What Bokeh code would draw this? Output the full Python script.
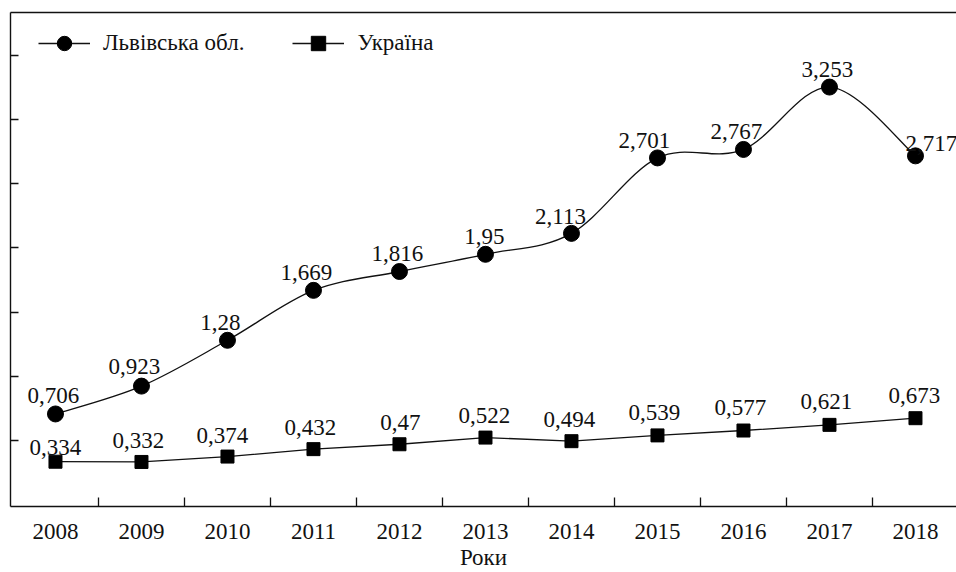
from bokeh.plotting import figure
from bokeh.models import (ColumnDataSource, FixedTicker, LinearAxis, Legend,
                          LegendItem, Range1d)
from bokeh.core.properties import value
from bokeh.embed import file_html
from bokeh.resources import INLINE

# ---- data ----
years = [2008, 2009, 2010, 2011, 2012, 2013, 2014, 2015, 2016, 2017, 2018]
lviv = [0.706, 0.923, 1.28, 1.669, 1.816, 1.95, 2.113, 2.701, 2.767, 3.253, 2.717]
ukraine = [0.334, 0.332, 0.374, 0.432, 0.47, 0.522, 0.494, 0.539, 0.577, 0.621, 0.673]
series_names = ["Львівська обл.", "Україна"]
x_title = "Роки"
y_ticks = [0.5, 1.0, 1.5, 2.0, 2.5, 3.0, 3.5]

# label placement (style only, screen px)
lviv_dx = [-2, -7, -7, -7, -2, -1, -11, -13, -7, -2, 16]
lviv_dy = [-18, -20, -18, -18, -18, -18, -17, -17, -18, -18, -12]
ukr_dx = [0, -3, -5, -3, 1, -1, -2, -3, -3, -3, -1]
ukr_dy = [-14, -21, -21, -22, -22, -22, -22, -23, -23, -23, -23]

FONT = "Liberation Serif"
FS = "23px"
INK = "#111111"


def fmt(v):
    return str(v).replace(".", ",")


p = figure(width=956, height=572,
           x_range=Range1d(2007.477, 2018.477),
           y_range=Range1d(-0.015, 3.834),
           output_backend="svg", toolbar_location=None,
           x_axis_type=None, y_axis_type=None,
           min_border_left=10, min_border_right=0,
           min_border_top=12, min_border_bottom=66)
p.outline_line_color = None
p.background_fill_color = "white"
p.border_fill_color = "white"

# x axis: labels at the years, tick marks between them
xaxis = LinearAxis(ticker=FixedTicker(ticks=years,
                                      minor_ticks=[y + 0.5 for y in years[:-1]]))
xaxis.axis_label = x_title
xaxis.axis_label_text_font = FONT
xaxis.axis_label_text_font_size = FS
xaxis.axis_label_text_font_style = "normal"
xaxis.axis_label_text_color = INK
xaxis.axis_label_standoff = 3
xaxis.major_label_text_font = FONT
xaxis.major_label_text_font_size = FS
xaxis.major_label_text_color = INK
xaxis.major_label_standoff = 17
xaxis.major_tick_in = 0
xaxis.major_tick_out = 0
xaxis.minor_tick_in = 9
xaxis.minor_tick_out = 0
xaxis.minor_tick_line_color = INK
xaxis.minor_tick_line_width = 1.3
xaxis.axis_line_color = INK
xaxis.axis_line_width = 1.4
p.add_layout(xaxis, "below")

# y axis: tick marks only (no labels)
yaxis = LinearAxis(ticker=FixedTicker(ticks=[], minor_ticks=y_ticks))
yaxis.major_label_standoff = 0
yaxis.major_tick_in = 0
yaxis.major_tick_out = 0
yaxis.minor_tick_in = 8
yaxis.minor_tick_out = 0
yaxis.minor_tick_line_color = INK
yaxis.minor_tick_line_width = 1.3
yaxis.axis_line_color = INK
yaxis.axis_line_width = 1.4
p.add_layout(yaxis, "left")

# top border line
top = LinearAxis(ticker=FixedTicker(ticks=[]))
top.major_label_standoff = 0
top.major_tick_in = 0
top.major_tick_out = 0
top.minor_tick_line_color = None
top.axis_line_color = INK
top.axis_line_width = 1.4
p.add_layout(top, "above")

p.xgrid.visible = False
p.ygrid.visible = False

# smooth (Catmull-Rom) curve for Lviv region via Bezier glyphs
n = len(years)
x0, y0, x1, y1, cx0, cy0, cx1, cy1 = [], [], [], [], [], [], [], []
for i in range(n - 1):
    im1 = max(i - 1, 0)
    ip2 = min(i + 2, n - 1)
    x0.append(years[i]); y0.append(lviv[i])
    x1.append(years[i + 1]); y1.append(lviv[i + 1])
    cx0.append(years[i] + (years[i + 1] - years[im1]) / 6.0)
    cy0.append(lviv[i] + (lviv[i + 1] - lviv[im1]) / 6.0)
    cx1.append(years[i + 1] - (years[ip2] - years[i]) / 6.0)
    cy1.append(lviv[i + 1] - (lviv[ip2] - lviv[i]) / 6.0)
bez_src = ColumnDataSource(dict(x0=x0, y0=y0, x1=x1, y1=y1,
                                cx0=cx0, cy0=cy0, cx1=cx1, cy1=cy1))
r_lviv_line = p.bezier(x0="x0", y0="y0", x1="x1", y1="y1", cx0="cx0", cy0="cy0",
                       cx1="cx1", cy1="cy1", source=bez_src,
                       line_color=INK, line_width=1.3)

src_l = ColumnDataSource(dict(x=years, y=lviv, t=[fmt(v) for v in lviv],
                              dx=lviv_dx, dy=lviv_dy))
src_u = ColumnDataSource(dict(x=years, y=ukraine, t=[fmt(v) for v in ukraine],
                              dx=ukr_dx, dy=ukr_dy))

r_lviv_pts = p.scatter("x", "y", source=src_l, marker="circle", size=16,
                       fill_color="black", line_color="black")
r_ukr_line = p.line("x", "y", source=src_u, line_color=INK, line_width=1.3)
r_ukr_pts = p.scatter("x", "y", source=src_u, marker="square", size=13,
                      fill_color="black", line_color="black")

for s in (src_l, src_u):
    p.text(x="x", y="y", text="t", x_offset="dx", y_offset="dy", source=s,
           text_align="center", text_baseline="alphabetic",
           text_font=value(FONT), text_font_size=FS, text_color=INK)

legend = Legend(items=[LegendItem(label=series_names[0], renderers=[r_lviv_line, r_lviv_pts]),
                       LegendItem(label=series_names[1], renderers=[r_ukr_line, r_ukr_pts])],
                location=(28, 445), orientation="horizontal",
                border_line_color=None, background_fill_alpha=0,
                glyph_width=52, glyph_height=36, label_standoff=13,
                spacing=48, padding=0, margin=0,
                label_text_font=FONT, label_text_font_size=FS,
                label_text_color=INK)
p.add_layout(legend)

open("out.html", "w").write(file_html(p, INLINE))
